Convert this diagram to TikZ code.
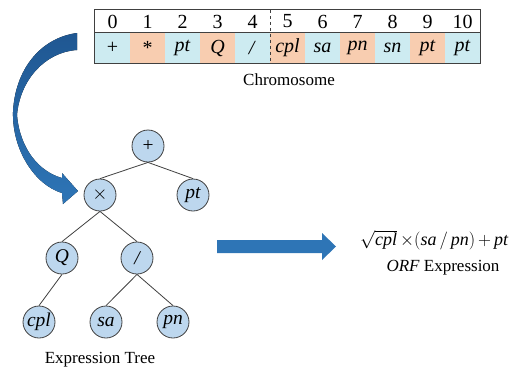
\RequirePackage{fix-cm}
\documentclass[tikz,border=0pt]{standalone}
\usepackage{fontspec}
\setmainfont{Liberation Serif}
\usetikzlibrary{positioning}

\definecolor{cellblue}{HTML}{CDEBF1}
\definecolor{cellorange}{HTML}{F8CDB0}
\definecolor{nodeblue}{HTML}{BDD7EE}
\definecolor{arrowblue}{HTML}{2E75B6}
\definecolor{arrowdark}{HTML}{1F5792}
\definecolor{linegray}{HTML}{404040}

\tikzset{
  gene/.style={minimum width=35pt, minimum height=30pt, inner sep=0pt,
               font=\fontsize{20}{22}\selectfont},
  index/.style={minimum width=35pt, minimum height=23pt, inner sep=0pt,
                font=\fontsize{20}{22}\selectfont},
  treenode/.style={circle, minimum size=32pt, inner sep=0pt,
                   fill=nodeblue, draw=linegray, line width=0.8pt,
                   font=\fontsize{19.5}{20}\selectfont\itshape},
  branch/.style={draw=linegray, line width=0.8pt},
  caption/.style={font=\fontsize{17}{19}\selectfont}
}

\begin{document}
\begin{tikzpicture}[x=1pt,y=-1pt]
    \useasboundingbox (0,0) rectangle (517,368);

    % Chromosome: index row and gene row
    \foreach \i in {0,...,10}
      \node[index] (Index_\i) at (112.5+35*\i,21.5) {\i};
    \foreach \i/\sym/\col in {0/+/cellblue, 1/*/cellorange, 2/\textit{pt}/cellblue,
                              3/\textit{Q}/cellorange, 4/{\textit{/}}/cellblue,
                              5/\textit{cpl}/cellorange, 6/\textit{sa}/cellblue,
                              7/\textit{pn}/cellorange, 8/\textit{sn}/cellblue,
                              9/\textit{pt}/cellorange, 10/\textit{pt}/cellblue}
      \node[gene, fill=\col] (Gene_\i) at (112.5+35*\i,48) {\sym};

    \draw[linegray, line width=0.8pt] (Index_0.north west) rectangle (Gene_10.south east);
    \draw[linegray, line width=0.8pt] (Gene_0.north west) -- (Gene_10.north east);
    % head / tail split
    \draw[linegray, line width=0.6pt, dashed] (Index_4.north east) -- (Gene_4.south east);

    \node[caption] (Chromosome_label) at (289,80) {Chromosome};

    % Curved arrow from chromosome to tree
    \fill[top color=arrowdark, bottom color=arrowblue]
      (77,33) .. controls (40,38) and (15,70) .. (13,112)
      .. controls (12,150) and (35,185) .. (62,193)
      -- (63,204) -- (78,191) -- (62,173) -- (62,178)
      .. controls (40,172) and (20,150) .. (17,115)
      .. controls (20,80) and (45,52) .. (77,50) -- cycle;

    % Expression tree
    \node[treenode] (Node_plus)  at (148,146) {\upshape +};
    \node[treenode] (Node_times) at (100,195) {\upshape $\times$};
    \node[treenode] (Node_pt)    at (193,195) {pt};
    \node[treenode] (Node_Q)     at (62,258)  {Q};
    \node[treenode] (Node_div)   at (137,258) {/};
    \node[treenode] (Node_cpl)   at (39,322)  {cpl};
    \node[treenode] (Node_sa)    at (106,322) {sa};
    \node[treenode] (Node_pn)    at (173,322) {pn};

    \draw[branch] (Node_plus.south)  -- (Node_times.north);
    \draw[branch] (Node_plus.south)  -- (Node_pt.north);
    \draw[branch] (Node_times.south) -- (Node_Q.north);
    \draw[branch] (Node_times.south) -- (Node_div.north);
    \draw[branch] (Node_Q.south)     -- (Node_cpl.north);
    \draw[branch] (Node_div.south)   -- (Node_sa.north);
    \draw[branch] (Node_div.south)   -- (Node_pn.north);

    \node[caption] (Tree_label) at (100,360) {Expression Tree};

    % Block arrow to the expression
    \fill[arrowblue] (217,240) -- (322,240) -- (322,233) -- (336,246.5)
      -- (322,260) -- (322,253) -- (217,253) -- cycle;

    \node[anchor=west, inner sep=0pt, font=\fontsize{18}{20}\selectfont] (ORF_formula) at (360,240)
      {$\sqrt{\textit{cpl}}\,{\times}(\textit{sa}\,/\,\textit{pn})\,{+}\,\textit{pt}$};
    \node[caption] (ORF_label) at (443,268) {\textit{ORF} Expression};

\end{tikzpicture}
\end{document}
